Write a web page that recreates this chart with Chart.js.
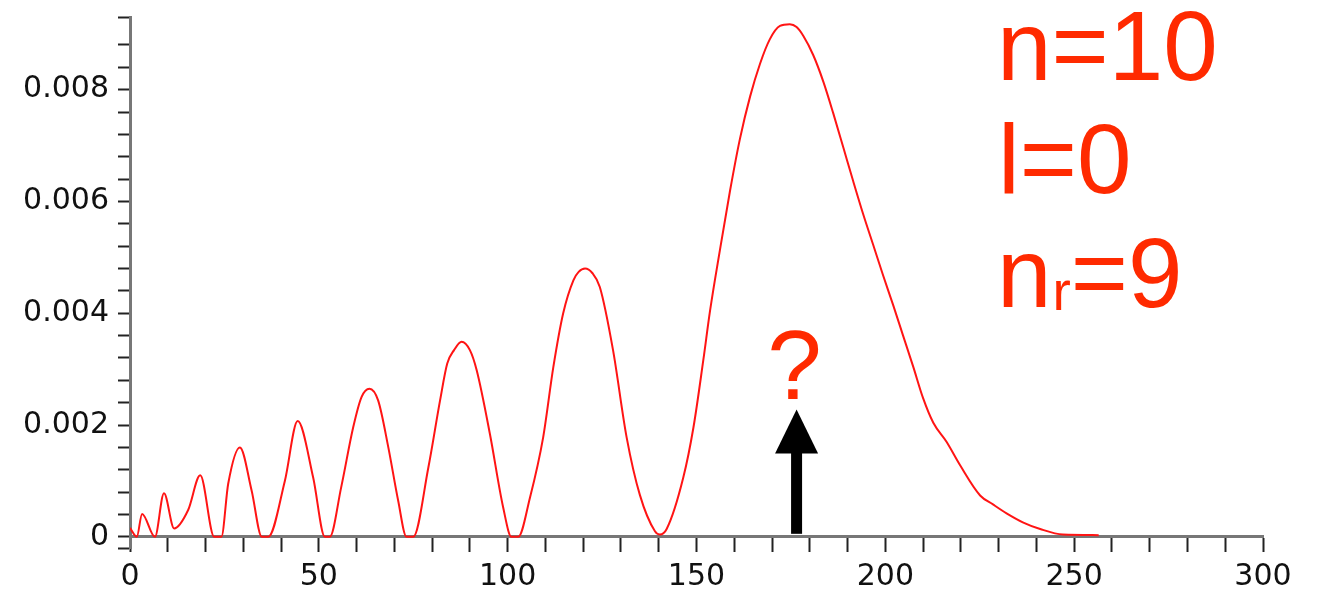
<!DOCTYPE html>
<html>
<head>
<meta charset="utf-8">
<script src="https://cdn.jsdelivr.net/npm/chart.js"></script>
<style>
  html, body { margin: 0; padding: 0; background: #fff; }
  #wrap { width: 1320px; height: 606px; }
</style>
</head>
<body>
<div id="wrap"><canvas id="radialChart" width="1320" height="606"></canvas></div>
<script>
// radius r (Bohr radii)
const radius = [0, 1.8, 3.2, 6.6, 9.0, 11.7, 15.4, 18.6, 22.3, 24.2, 26.0, 29.1, 32.2, 34.9, 36.6,
    41.0, 44.4, 48.5, 51.6, 52.9, 55.9, 59.1, 61.3, 63.4, 65.7, 68.4, 71.0, 73.2, 75.0,
    79.0, 82.1, 84.0, 85.8, 87.8, 90.0, 91.8, 95.3, 98.8, 101.0, 102.8, 105.9, 109.4, 112.1,
    114.7, 117.4, 118.8, 120.5, 122.4, 124.4, 127.9, 131.5, 135.0, 139.0, 140.3, 142.1,
    146.5, 149.2, 151.8, 153.6, 156.2, 158.9, 161.5, 164.2, 166.8, 169.4, 172.1, 174.7,
    176.5, 178.3, 180.9, 183.6, 186.2, 188.9, 191.5, 194.1, 196.8, 199.4, 202.1, 204.7,
    207.4, 210.0, 212.7, 216.2, 219.8, 225.1, 228.5, 232.1, 236.4, 241.0, 247.0, 256.5];

// radial probability density for n=10, l=0
const probability = [0.00016, 0, 0.00041, 0, 0.00078, 0.00015, 0.00048, 0.00110, 0, 0, 0.00095, 0.00160, 0.00083, 0, 0,
    0.00100, 0.00207, 0.00106, 0, 0, 0.00088, 0.00196, 0.00250, 0.00265, 0.00244, 0.00160, 0.00065, 0, 0,
    0.00124, 0.00244, 0.00310, 0.00334, 0.00349, 0.00334, 0.00298, 0.00184, 0.00053, 0, 0, 0.00070, 0.00178, 0.00304,
    0.00400, 0.00459, 0.00474, 0.00480, 0.00472, 0.00447, 0.00334, 0.00178, 0.00075, 0.00010, 0.00004, 0.00014,
    0.00106, 0.00196, 0.00316, 0.00405, 0.00513, 0.00620, 0.00712, 0.00788, 0.00846, 0.00890, 0.00914, 0.00917,
    0.00912, 0.00896, 0.00862, 0.00814, 0.00758, 0.00696, 0.00636, 0.00578, 0.00522, 0.00468, 0.00414, 0.00360,
    0.00304, 0.00248, 0.00204, 0.00170, 0.00128, 0.00074, 0.00058, 0.00042, 0.00026, 0.00014, 0.00004, 0.00003];

// axis ticks (every tick gets a mark, only these get a label)
const xTickValues = [0, 10, 20, 30, 40, 50, 60, 70, 80, 90, 100, 110, 120, 130, 140, 150,
    160, 170, 180, 190, 200, 210, 220, 230, 240, 250, 260, 270, 280, 290, 300];
const xTickLabels = { 0: '0', 50: '50', 100: '100', 150: '150', 200: '200', 250: '250', 300: '300' };

const yTickValues = [-0.0002, 0, 0.0004, 0.0008, 0.0012, 0.0016, 0.002, 0.0024, 0.0028, 0.0032,
    0.0036, 0.004, 0.0044, 0.0048, 0.0052, 0.0056, 0.006, 0.0064, 0.0068, 0.0072, 0.0076,
    0.008, 0.0084, 0.0088, 0.0093];
const yLabelValues = [0, 0.002, 0.004, 0.006, 0.008];
const yLabelTexts = ['0', '0.002', '0.004', '0.006', '0.008'];

// annotation
const infoLines = ['n=10', 'l=0'];
const arrowR = 176.5;
const arrowTip = 0.00228;

const RED = '#ff2a00';
const AXIS_FONT = { family: 'DejaVu Sans', size: 30 };

const labelPlugin = {
    id: 'quantumLabels',
    afterDraw(chart) {
        const ctx = chart.ctx;
        const xs = chart.scales.x;
        const ys = chart.scales.y;
        ctx.save();

        // n, l, n_r text
        ctx.fillStyle = RED;
        ctx.textAlign = 'left';
        ctx.textBaseline = 'alphabetic';
        ctx.font = '98px "Liberation Sans"';
        ctx.fillText(infoLines[0], 997, 80);
        ctx.fillText(infoLines[1], 998, 193);
        let x = 997;
        ctx.fillText('n', x, 307);
        x += ctx.measureText('n').width;
        ctx.font = '55px "Liberation Sans"';
        ctx.fillText('r', x + 1, 310);
        x += ctx.measureText('r').width + 1;
        ctx.font = '98px "Liberation Sans"';
        ctx.fillText('=9', x, 307);

        // arrow pointing at the peak
        const ax = xs.getPixelForValue(arrowR);
        const base = ys.getPixelForValue(0) - 3;
        const tip = ys.getPixelForValue(arrowTip);
        const headH = 44;
        ctx.fillStyle = '#000';
        ctx.fillRect(ax - 5.5, tip + headH - 1, 11, base - (tip + headH - 1));
        ctx.beginPath();
        ctx.moveTo(ax - 21.5, tip + headH);
        ctx.lineTo(ax + 21.5, tip + headH);
        ctx.lineTo(ax, tip);
        ctx.closePath();
        ctx.fill();

        ctx.fillStyle = RED;
        ctx.textAlign = 'center';
        ctx.font = '98px "Liberation Sans"';
        ctx.fillText('?', ax - 2, tip - 10);
        ctx.restore();
    }
};

const points = radius.map((r, i) => ({ x: r, y: probability[i] }));

new Chart(document.getElementById('radialChart'), {
    type: 'scatter',
    data: {
        datasets: [{
            data: points,
            showLine: true,
            borderColor: '#ff1414',
            borderWidth: 2,
            pointRadius: 0,
            cubicInterpolationMode: 'monotone',
            fill: false
        }]
    },
    options: {
        responsive: false,
        animation: false,
        layout: { padding: { top: 17, right: 57, bottom: 58, left: 0 } },
        plugins: {
            legend: { display: false },
            tooltip: { enabled: false }
        },
        scales: {
            x: {
                type: 'linear',
                position: { y: 0 },
                min: 0,
                max: 300,
                afterFit: (scale) => { scale.paddingLeft = 0; scale.paddingRight = 0; },
                afterBuildTicks: (scale) => {
                    scale.ticks = xTickValues.map(v => ({ value: v }));
                },
                grid: { drawOnChartArea: false, drawTicks: true, tickLength: 14, tickWidth: 2, tickColor: '#222' },
                border: { display: true, color: '#777', width: 3 },
                ticks: {
                    autoSkip: false,
                    maxRotation: 0,
                    padding: 8,
                    color: '#111',
                    font: AXIS_FONT,
                    callback: (value) => xTickLabels[value] !== undefined ? xTickLabels[value] : ''
                }
            },
            y: {
                type: 'linear',
                min: -0.0002,
                max: 0.0093,
                afterFit: (scale) => {
                    scale.width = 130;
                    scale.paddingTop = 0;
                    scale.paddingBottom = 0;
                },
                afterBuildTicks: (scale) => {
                    scale.ticks = yTickValues.map(v => ({ value: v }));
                },
                grid: { drawOnChartArea: false, drawTicks: true, tickLength: 12, tickWidth: 2, tickColor: '#222' },
                border: { display: true, color: '#777', width: 3 },
                ticks: {
                    autoSkip: false,
                    padding: 9,
                    color: '#111',
                    font: AXIS_FONT,
                    callback: (value) => {
                        const i = yLabelValues.findIndex(v => Math.abs(v - value) < 1e-7);
                        return i >= 0 ? yLabelTexts[i] : '';
                    }
                }
            }
        }
    },
    plugins: [labelPlugin]
});
</script>
</body>
</html>
